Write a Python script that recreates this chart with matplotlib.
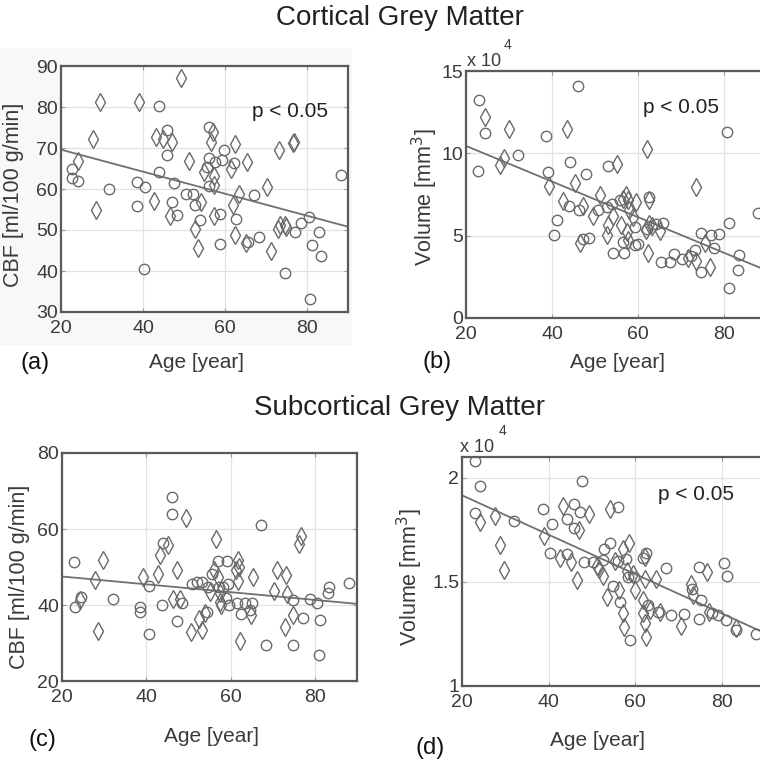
# coding=utf-8
'''
CBF and grey matter volume against age, cortical and subcortical.
'''
import numpy as np
import matplotlib
matplotlib.use('Agg')
import matplotlib.pyplot as plt
from matplotlib.patches import Rectangle

# ---- (a) cortical CBF [ml/100 g/min] ----
a_circ_age = [22.6, 22.8, 24.2, 31.8, 38.5, 38.5, 40.4, 40.3, 43.8, 44.0, 45.8, 45.8, 47.0, 47.6,
              48.3, 50.5, 52.2, 52.6, 54.0, 55.7, 56.0, 56.2, 56.2, 57.6, 58.7, 58.8, 59.2, 59.7,
              62.1, 62.7, 65.5, 67.0, 68.2, 74.7, 77.1, 78.6, 80.4, 80.8, 81.1, 83.0, 83.4, 88.2]
a_circ_cbf = [65.0, 62.6, 62.0, 60.1, 61.7, 55.9, 60.4, 40.6, 64.2, 80.2, 74.4, 68.4, 56.9, 61.5,
              53.6, 58.7, 58.7, 56.2, 52.4, 65.4, 60.7, 67.5, 75.1, 66.6, 54.0, 46.7, 67.0, 69.5,
              66.3, 52.8, 47.0, 58.5, 48.3, 39.4, 49.5, 51.7, 53.2, 33.1, 46.4, 49.5, 43.7, 63.4]
a_dia_age = [24.2, 27.7, 28.6, 29.5, 39.1, 42.6, 43.2, 45.0, 47.0, 46.5, 49.3, 51.1, 52.7, 54.2,
             53.5, 54.8, 56.6, 57.1, 57.2, 57.4, 57.2, 61.5, 61.9, 62.5, 62.5, 63.3, 65.4, 65.2,
             70.2, 71.3, 72.9, 73.1, 73.5, 74.7, 74.9, 76.6, 76.9]
a_dia_cbf = [66.9, 72.3, 54.8, 81.1, 81.1, 57.1, 72.6, 72.1, 71.5, 53.4, 87.0, 66.9, 50.3, 56.9,
             45.5, 64.2, 71.5, 74.0, 63.2, 60.9, 53.4, 65.0, 56.0, 70.9, 48.7, 58.7, 66.6, 46.8,
             60.5, 44.8, 50.3, 69.5, 51.2, 51.2, 50.8, 71.1, 71.5]
a_fit = [69.6, 50.8]

# ---- (b) cortical volume [x 10^4 mm^3] ----
b_circ_age = [23.1, 22.9, 24.4, 32.2, 38.7, 39.0, 41.1, 40.4, 44.1, 43.9, 46.3, 48.0, 47.1, 48.6,
              50.7, 52.8, 53.1, 54.0, 54.2, 55.9, 56.4, 56.8, 59.2, 59.2, 60.0, 62.0, 62.6, 64.3,
              65.7, 65.4, 67.4, 68.3, 70.3, 72.4, 73.2, 74.7, 74.7, 76.9, 77.6, 78.8, 80.8, 81.1,
              81.1, 83.5, 83.3, 87.9, 46.1]
b_circ_vol = [13.26, 8.93, 11.23, 9.92, 11.05, 8.87, 5.93, 5.06, 9.47, 6.78, 6.58, 8.77, 4.82, 4.86,
              6.58, 6.74, 9.23, 6.94, 3.97, 7.15, 4.61, 3.97, 5.53, 4.45, 4.51, 5.39, 7.35, 5.73,
              5.79, 3.40, 3.40, 3.87, 3.60, 3.74, 4.11, 5.16, 2.79, 5.02, 4.27, 5.08, 11.30, 5.77,
              1.82, 3.85, 2.89, 6.40, 14.07]
b_dia_age = [24.4, 27.9, 28.8, 30.0, 39.3, 43.6, 42.6, 45.3, 47.1, 46.6, 49.6, 51.1, 52.9, 53.1,
             55.0, 54.2, 56.1, 56.5, 57.3, 57.5, 57.7, 57.9, 57.7, 58.9, 59.6, 61.8, 62.2, 62.6,
             62.3, 62.6, 63.3, 65.0, 71.6, 73.4, 73.6, 75.5, 76.7]
b_dia_vol = [12.21, 9.27, 9.74, 11.46, 8.00, 11.46, 7.09, 8.22, 6.78, 4.57, 6.19, 7.49, 5.06, 5.63,
             9.37, 6.17, 5.63, 7.25, 7.49, 5.22, 4.76, 6.54, 7.15, 6.13, 7.04, 5.37, 10.28, 7.15,
             3.97, 5.73, 5.57, 5.28, 3.66, 3.46, 7.96, 4.55, 3.10]
b_fit = [10.45, 2.88]

# ---- (c) subcortical CBF [ml/100 g/min] ----
c_circ_age = [22.8, 23.0, 24.5, 32.0, 38.6, 38.6, 40.7, 40.7, 43.7, 44.0, 46.0, 46.0, 47.2, 48.5,
              50.9, 52.1, 53.3, 54.3, 54.7, 55.5, 56.9, 57.3, 58.3, 59.1, 59.3, 58.9, 59.7, 61.6,
              62.5, 63.5, 64.5, 65.0, 67.3, 68.4, 74.7, 74.8, 77.2, 78.8, 80.6, 81.0, 81.2, 83.2,
              83.4, 88.0]
c_circ_cbf = [51.3, 39.5, 42.1, 41.7, 39.6, 38.2, 44.9, 32.3, 39.9, 56.4, 68.4, 64.0, 35.7, 40.4,
              45.6, 46.1, 46.1, 38.2, 44.7, 48.2, 51.5, 44.7, 44.7, 51.5, 45.6, 41.9, 39.9, 40.4,
              37.7, 40.5, 38.8, 40.5, 61.0, 29.6, 41.2, 29.6, 36.7, 41.7, 40.4, 26.8, 36.1, 43.2,
              44.7, 45.8]
c_dia_age = [24.2, 27.8, 28.6, 29.8, 39.2, 42.7, 43.2, 45.1, 46.4, 47.2, 48.0, 49.5, 50.7, 52.5,
             53.3, 53.9, 55.1, 56.1, 56.5, 56.9, 57.5, 57.5, 57.7, 61.4, 61.8, 62.1, 61.8, 62.2,
             64.9, 65.3, 70.3, 71.1, 72.8, 73.1, 73.5, 74.8, 76.3, 76.8]
c_dia_cbf = [41.4, 46.7, 33.1, 51.9, 47.4, 48.1, 53.1, 55.9, 41.7, 49.3, 41.7, 62.9, 32.9, 36.4,
             33.3, 37.9, 43.4, 49.1, 57.5, 47.4, 43.2, 40.8, 39.9, 49.1, 51.9, 50.0, 46.2, 30.4,
             37.5, 47.4, 43.6, 49.3, 34.2, 48.0, 42.8, 37.3, 56.0, 58.1]
c_fit = [47.5, 40.3]

# ---- (d) subcortical volume [x 10^4 mm^3] ----
d_circ_age = [22.9, 24.2, 23.1, 31.9, 38.6, 40.8, 40.3, 44.2, 44.2, 45.9, 45.9, 47.2, 47.8, 48.2,
              50.3, 52.6, 52.8, 54.2, 56.1, 54.9, 56.1, 56.5, 58.0, 58.4, 58.9, 59.7, 61.7, 62.4,
              62.9, 65.3, 67.2, 68.2, 71.4, 73.2, 74.7, 75.3, 74.7, 77.8, 79.1, 80.6, 81.2, 81.0,
              83.3, 87.9]
d_circ_vol = [2.083, 1.963, 1.833, 1.793, 1.849, 1.780, 1.637, 1.801, 1.634, 1.876, 1.761, 1.836,
              1.984, 1.597, 1.594, 1.605, 1.658, 1.685, 1.860, 1.482, 1.602, 1.403, 1.610, 1.522,
              1.223, 1.522, 1.615, 1.637, 1.390, 1.355, 1.567, 1.342, 1.347, 1.467, 1.573, 1.411,
              1.323, 1.350, 1.339, 1.589, 1.530, 1.315, 1.268, 1.252]
d_dia_age = [24.2, 27.7, 28.7, 29.6, 39.0, 42.6, 43.3, 45.1, 47.1, 46.5, 49.4, 51.1, 51.7, 52.5,
             53.5, 54.2, 55.3, 56.3, 57.2, 57.5, 57.2, 58.2, 58.6, 59.4, 59.9, 62.2, 62.2, 61.8,
             61.8, 62.2, 62.4, 63.5, 64.9, 65.7, 70.5, 72.9, 73.4, 76.6, 77.0, 83.2]
d_dia_vol = [1.788, 1.817, 1.677, 1.557, 1.721, 1.615, 1.865, 1.597, 1.750, 1.510, 1.825, 1.578,
             1.562, 1.530, 1.427, 1.849, 1.602, 1.459, 1.350, 1.283, 1.658, 1.554, 1.689, 1.538,
             1.459, 1.621, 1.514, 1.414, 1.350, 1.302, 1.233, 1.363, 1.514, 1.355, 1.287, 1.490,
             1.435, 1.549, 1.355, 1.280]
d_fit = [1.916, 1.254]

fit_age = [20, 90]

W, H = 760, 766
plt.rcParams['font.family'] = ['Liberation Sans', 'DejaVu Sans']
plt.rcParams['savefig.dpi'] = 100
plt.rcParams['figure.dpi'] = 100

mk_col = '#6a6a6a'
ax_col = '#5a5a5a'
txt_col = '#3a3a3a'

fig = plt.figure(figsize=(W / 100, H / 100))
fig.patch.set_facecolor('white')
# faint grey backdrop behind panel (a), as in the scanned figure
fig.patches.append(Rectangle((0, 1 - 345 / H), 352 / W, (345 - 48) / H, transform=fig.transFigure,
                             facecolor='#f8f8f8', edgecolor='none', zorder=-5))


def px_axes(left, top, right, bottom):
    # axes rectangle given in image pixels
    return fig.add_axes([left / W, 1 - bottom / H, (right - left) / W, (bottom - top) / H])


def px_text(x, y, s, **kw):
    fig.text(x / W, 1 - y / H, s, ha=kw.pop('ha', 'center'), va=kw.pop('va', 'center'), **kw)


def scatter_panel(ax, c_x, c_y, d_x, d_y, fit, ylim, yticks):
    ax.plot(c_x, c_y, 'o', ms=7.5, mfc='none', mec=mk_col, mew=1.0, zorder=3)
    ax.plot(d_x, d_y, 'd', ms=9, mfc='none', mec=mk_col, mew=1.0, zorder=3)
    ax.plot(fit_age, fit, '-', color='#707070', lw=1.3, zorder=2)
    ax.set_xlim(20, 90)
    ax.set_ylim(*ylim)
    ax.set_xticks([20, 40, 60, 80])
    ax.set_yticks(yticks)
    ax.grid(True, color='#e2e2e2', lw=0.9)
    ax.set_axisbelow(True)
    for s in ax.spines.values():
        s.set_color(ax_col)
        s.set_linewidth(1.6)
    ax.tick_params(direction='in', length=3, width=0.8, color='#999999', top=True, right=True,
                   labelsize=14, labelcolor=txt_col)
    ax.tick_params(axis='x', pad=6)
    ax.tick_params(axis='y', pad=2)


# panel (a)
ax = px_axes(61, 66, 348, 312)
scatter_panel(ax, a_circ_age, a_circ_cbf, a_dia_age, a_dia_cbf, a_fit, (30, 90), np.arange(30, 91, 10))
ax.text(66.6, 78.8, 'p < 0.05', fontsize=15, color='#222222', va='center')

# panel (b)
ax = px_axes(466, 71, 767, 318)
scatter_panel(ax, b_circ_age, b_circ_vol, b_dia_age, b_dia_vol, b_fit, (0, 15), [0, 5, 10, 15])
ax.text(61.2, 12.8, 'p < 0.05', fontsize=15, color='#222222', va='center')

# panel (c)
ax = px_axes(62, 453, 357, 681)
scatter_panel(ax, c_circ_age, c_circ_cbf, c_dia_age, c_dia_cbf, c_fit, (20, 80), [20, 40, 60, 80])

# panel (d)
ax = px_axes(462, 457, 765, 686)
scatter_panel(ax, d_circ_age, d_circ_vol, d_dia_age, d_dia_vol, d_fit, (1, 2.1), [1, 1.5, 2])
ax.yaxis.set_major_formatter(matplotlib.ticker.FuncFormatter(lambda v, p: '%g' % v))
ax.text(65.3, 1.92, 'p < 0.05', fontsize=15, color='#222222', va='center')

# titles
px_text(400, 18, 'Cortical Grey Matter', fontsize=20, color='#222222')
px_text(400, 408, 'Subcortical Grey Matter', fontsize=20, color='#222222')

# axis labels
lab = dict(fontsize=15, color=txt_col)
px_text(197, 362, 'Age [year]', **lab)
px_text(618, 362, 'Age [year]', **lab)
px_text(212, 737, 'Age [year]', **lab)
px_text(597, 740, 'Age [year]', **lab)
px_text(14, 195, 'CBF [ml/100 g/min]', rotation=90, fontsize=15.5, color=txt_col)
px_text(20, 577, 'CBF [ml/100 g/min]', rotation=90, fontsize=15.5, color=txt_col)
px_text(425, 197, 'Volume [mm$^3$]', rotation=90, fontsize=15.5, color=txt_col)
px_text(410, 577, 'Volume [mm$^3$]', rotation=90, fontsize=15.5, color=txt_col)

# exponent labels
px_text(467, 62, 'x 10', ha='left', fontsize=13, color=txt_col)
px_text(508, 45, '4', ha='center', fontsize=10, color=txt_col)
px_text(460, 447, 'x 10', ha='left', fontsize=13, color=txt_col)
px_text(502, 431, '4', ha='center', fontsize=10, color=txt_col)

# panel letters
let = dict(fontsize=17, color='#111111')
px_text(35, 363, '(a)', **let)
px_text(437, 362, '(b)', **let)
px_text(42, 740, '(c)', **let)
px_text(430, 748, '(d)', **let)

plt.savefig('out.png', dpi=100)
